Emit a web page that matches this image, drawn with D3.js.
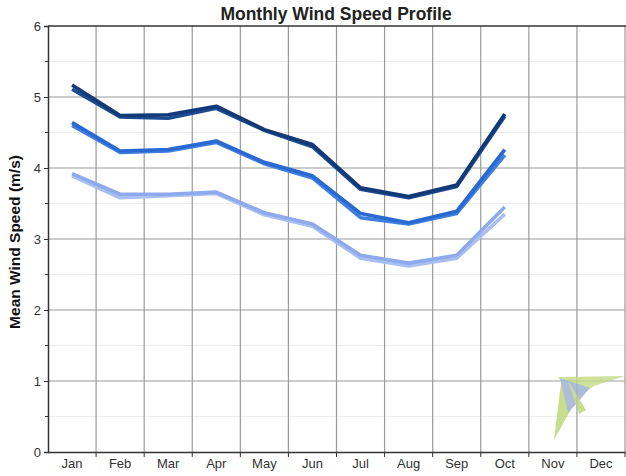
<!DOCTYPE html>
<html>
<head>
<meta charset="utf-8">
<script src="https://cdn.jsdelivr.net/npm/d3@7"></script>
<style>
  body { margin: 0; background: #fff; }
  text { font-family: "Liberation Sans", Arial, sans-serif; }
</style>
</head>
<body>
<div id="chart"></div>
<script>
// months on the x axis
var months = ["Jan", "Feb", "Mar", "Apr", "May", "Jun", "Jul", "Aug", "Sep", "Oct", "Nov", "Dec"];
var yTicks = [0, 1, 2, 3, 4, 5, 6];

// two nearly identical runs for each height (dark / mid / light)
var darkA  = [5.17, 4.74, 4.75, 4.87, 4.54, 4.33, 3.72, 3.60, 3.76, 4.76];
var darkB  = [5.11, 4.72, 4.70, 4.84, 4.53, 4.30, 3.70, 3.58, 3.74, 4.73];
var midA   = [4.64, 4.24, 4.26, 4.38, 4.08, 3.89, 3.36, 3.23, 3.39, 4.26];
var midB   = [4.60, 4.22, 4.24, 4.36, 4.06, 3.86, 3.30, 3.21, 3.36, 4.18];
var lightA = [3.92, 3.63, 3.63, 3.66, 3.37, 3.21, 2.77, 2.66, 2.77, 3.45];
var lightB = [3.89, 3.58, 3.61, 3.64, 3.34, 3.18, 2.73, 2.62, 2.73, 3.35];

var series = [
    {values: lightB, color: "#a9bff2"},
    {values: lightA, color: "#8eaaec"},
    {values: midB,   color: "#3f7fe0"},
    {values: midA,   color: "#2a68d2"},
    {values: darkB,  color: "#1d4b8f"},
    {values: darkA,  color: "#123a78"}
];

var W = 626, H = 476;
var margin = {top: 26, right: 1, bottom: 24, left: 48};
var width = W - margin.left - margin.right,
    height = H - margin.top - margin.bottom;

var svg = d3.select("#chart").append("svg")
    .attr("width", W)
    .attr("height", H);

var g = svg.append("g")
    .attr("transform", "translate(" + margin.left + "," + margin.top + ")");

var x = d3.scaleBand()
    .domain(months)
    .range([0, width]);

var y = d3.scaleLinear()
    .domain([0, 6])
    .range([height, 0]);

// minor horizontal grid at half units
g.append("g").selectAll("line")
    .data(d3.range(0.5, 6, 1))
    .enter().append("line")
    .attr("x1", 0).attr("x2", width)
    .attr("y1", function (d) { return y(d); })
    .attr("y2", function (d) { return y(d); })
    .attr("stroke", "#ececec")
    .attr("stroke-width", 1);

// major horizontal grid
g.append("g").selectAll("line")
    .data(yTicks.slice(1, 6))
    .enter().append("line")
    .attr("x1", 0).attr("x2", width)
    .attr("y1", function (d) { return y(d); })
    .attr("y2", function (d) { return y(d); })
    .attr("stroke", "#9a9a9a")
    .attr("stroke-width", 1.2);

// vertical grid at month boundaries
g.append("g").selectAll("line")
    .data(months)
    .enter().append("line")
    .attr("x1", function (d) { return x(d) + x.bandwidth(); })
    .attr("x2", function (d) { return x(d) + x.bandwidth(); })
    .attr("y1", 0).attr("y2", height)
    .attr("stroke", "#9a9a9a")
    .attr("stroke-width", 1.2);

// watermark logo in lower right
var logo = svg.append("g").attr("opacity", 0.8);
logo.append("path").attr("d", "M558,377 L625,376 L594,386 L574,399 Z").attr("fill", "#c3dc86");
logo.append("path").attr("d", "M561,383 L580,393 L554,440 Z").attr("fill", "#b8d672");
logo.append("path").attr("d", "M560,378 L590,388 L577,403 L568,413 Z").attr("fill", "#9bafd2");
logo.append("path").attr("d", "M568,381 L586,410 L579,414 Z").attr("fill", "#b9d47a");

// lines
var line = d3.line()
    .x(function (d, i) { return x(months[i]) + x.bandwidth() / 2; })
    .y(function (d) { return y(d); });

g.append("g").selectAll("path")
    .data(series)
    .enter().append("path")
    .attr("d", function (d) { return line(d.values); })
    .attr("fill", "none")
    .attr("stroke", function (d) { return d.color; })
    .attr("stroke-width", 3.6)
    .attr("stroke-linejoin", "round");

// axes
var yAxis = d3.axisLeft(y).tickValues(yTicks).tickSize(4).tickPadding(3).tickFormat(d3.format("d"));
var gy = g.append("g").call(yAxis);
gy.select(".domain").attr("stroke", "#333").attr("stroke-width", 1.5);
gy.selectAll(".tick line").attr("stroke", "#333");
gy.selectAll("text").attr("font-size", 13).attr("fill", "#333");

// minor y ticks
g.append("g").selectAll("line")
    .data(d3.range(0.5, 6, 1))
    .enter().append("line")
    .attr("x1", -3).attr("x2", 0)
    .attr("y1", function (d) { return y(d); })
    .attr("y2", function (d) { return y(d); })
    .attr("stroke", "#333");

var xAxis = d3.axisBottom(x).tickSize(0).tickPadding(7);
var gx = g.append("g").attr("transform", "translate(0," + height + ")").call(xAxis);
gx.select(".domain").attr("stroke", "#333").attr("stroke-width", 1.5);
gx.selectAll("text").attr("font-size", 13).attr("fill", "#333");

// x tick marks at month boundaries
gx.append("g").selectAll("line")
    .data(months)
    .enter().append("line")
    .attr("x1", function (d) { return x(d) + x.bandwidth(); })
    .attr("x2", function (d) { return x(d) + x.bandwidth(); })
    .attr("y1", 0).attr("y2", 5)
    .attr("stroke", "#333");

// top border
g.append("line")
    .attr("x1", 0).attr("x2", width + margin.right)
    .attr("y1", 0).attr("y2", 0)
    .attr("stroke", "#333")
    .attr("stroke-width", 1.5);

// title
svg.append("text")
    .attr("x", 336)
    .attr("y", 20)
    .attr("text-anchor", "middle")
    .attr("font-size", 17.5)
    .attr("font-weight", "bold")
    .attr("fill", "#222")
    .text("Monthly Wind Speed Profile");

// y axis label
svg.append("text")
    .attr("transform", "translate(20," + (margin.top + height / 2 + 3) + ") rotate(-90)")
    .attr("text-anchor", "middle")
    .attr("font-size", 15.5)
    .attr("font-weight", "bold")
    .attr("fill", "#111")
    .text("Mean Wind Speed (m/s)");
</script>
</body>
</html>
